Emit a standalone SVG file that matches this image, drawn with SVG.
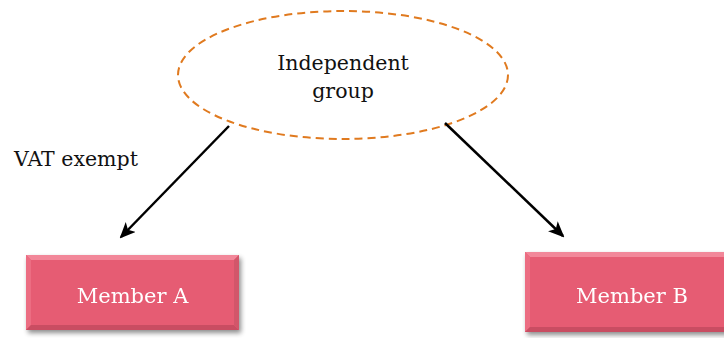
<svg xmlns="http://www.w3.org/2000/svg" width="724" height="338" viewBox="0 0 724 338">
  <style>
    .label { font-family: "DejaVu Serif", "Liberation Serif", serif; font-size: 20.5px; fill: #111; }
    .boxlabel { font-family: "DejaVu Serif", "Liberation Serif", serif; font-size: 21px; fill: #ffffff; text-anchor: middle; }
    .face { fill: #E65B73; }
    .bevel-top { fill: #F28799; }
    .bevel-left { fill: #EC6D82; }
    .bevel-bottom { fill: #C94E62; }
    .bevel-right { fill: #D2566B; }
    .connector { stroke: #000; stroke-width: 2.5; fill: none; marker-end: url(#arrow); }
  </style>
  <defs>
    <marker id="arrow" viewBox="0 0 16 14" refX="14" refY="7" markerWidth="16" markerHeight="14" markerUnits="userSpaceOnUse" orient="auto">
      <path d="M0,0 L16,7 L0,14 L4,7 Z" fill="#000"/>
    </marker>
    <filter id="shadow" x="-10%" y="-20%" width="125%" height="150%">
      <feGaussianBlur in="SourceAlpha" stdDeviation="2.5"/>
      <feOffset dx="2" dy="3" result="b"/>
      <feComponentTransfer><feFuncA type="linear" slope="0.45"/></feComponentTransfer>
      <feMerge><feMergeNode/><feMergeNode in="SourceGraphic"/></feMerge>
    </filter>
  </defs>

  <!-- group ellipse -->
  <g id="independent-group">
    <ellipse cx="343" cy="75" rx="165" ry="64" fill="none" stroke="#E07A1F" stroke-width="2" stroke-dasharray="8 5"/>
    <text class="label" x="343" y="70" text-anchor="middle">Independent</text>
    <text class="label" x="343" y="98" text-anchor="middle">group</text>
  </g>

  <!-- annotation -->
  <g id="vat-exempt">
    <text class="label" x="14" y="166" font-size="20">VAT exempt</text>
  </g>

  <!-- member A box -->
  <g id="member-a" filter="url(#shadow)">
    <rect class="face" x="26" y="255" width="213" height="75"/>
    <polygon class="bevel-top" points="26,255 239,255 234,260 31,260"/>
    <polygon class="bevel-left" points="26,255 31,260 31,325 26,330"/>
    <polygon class="bevel-bottom" points="26,330 31,325 234,325 239,330"/>
    <polygon class="bevel-right" points="239,255 239,330 234,325 234,260"/>
    <text class="boxlabel" x="132.5" y="303">Member A</text>
  </g>

  <!-- member B box -->
  <g id="member-b" filter="url(#shadow)">
    <rect class="face" x="525" y="252" width="215" height="80"/>
    <polygon class="bevel-top" points="525,252 740,252 735,257 530,257"/>
    <polygon class="bevel-left" points="525,252 530,257 530,327 525,332"/>
    <polygon class="bevel-bottom" points="525,332 530,327 735,327 740,332"/>
    <text class="boxlabel" x="632" y="303">Member B</text>
  </g>

  <!-- connectors -->
  <g id="connectors">
    <line class="connector" x1="229" y1="126" x2="121" y2="237"/>
    <line class="connector" x1="445" y1="123" x2="563" y2="236"/>
  </g>
</svg>
